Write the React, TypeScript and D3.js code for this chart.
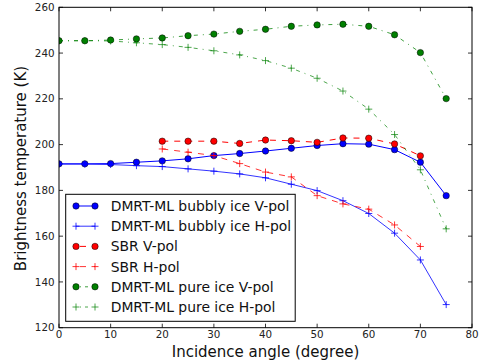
import React from "react";
import * as d3 from "d3";

const anglesFull = [0, 5, 10, 15, 20, 25, 30, 35, 40, 45, 50, 55, 60, 65, 70, 75];
const anglesSBR = [20, 25, 30, 35, 40, 45, 50, 55, 60, 65, 70];

const bubblyV = [191.6, 191.6, 191.7, 192.3, 192.9, 193.8, 195.2, 196.1, 197.2, 198.4, 199.6, 200.4, 200.2, 197.8, 192.3, 177.7];
const bubblyH = [191.5, 191.5, 191.3, 190.8, 190.4, 189.4, 188.4, 187.2, 185.5, 182.7, 179.9, 175.5, 169.9, 161.3, 149.6, 130.1];
const sbrV = [201.5, 201.5, 201.5, 200.5, 202.0, 201.7, 201.0, 202.9, 202.8, 200.3, 195.1];
const sbrH = [198.1, 196.7, 195.2, 191.7, 188.0, 185.9, 177.7, 174.1, 171.8, 164.9, 155.5];
const pureV = [245.4, 245.4, 245.7, 246.2, 246.6, 247.6, 248.3, 249.5, 250.4, 251.7, 252.3, 252.6, 251.7, 248.0, 240.2, 220.1];
const pureH = [245.4, 245.4, 245.3, 244.5, 243.7, 242.5, 241.0, 239.2, 236.7, 233.4, 229.0, 223.4, 215.5, 204.4, 189.0, 163.2];

const xTicks = [0, 10, 20, 30, 40, 50, 60, 70, 80];
const yTicks = [120, 140, 160, 180, 200, 220, 240, 260];

const seriesNames = [
  "DMRT-ML bubbly ice V-pol",
  "DMRT-ML bubbly ice H-pol",
  "SBR V-pol",
  "SBR H-pol",
  "DMRT-ML pure ice V-pol",
  "DMRT-ML pure ice H-pol",
];

type Series = {
  name: string;
  x: number[];
  y: number[];
  color: string;
  dash: string;
  legDash: string;
  marker: "o" | "+";
  op: number;
};

const series: Series[] = [
  { name: seriesNames[0], x: anglesFull, y: bubblyV, color: "#0000ff", dash: "none", legDash: "none", marker: "o", op: 1 },
  { name: seriesNames[1], x: anglesFull, y: bubblyH, color: "#0000ff", dash: "none", legDash: "none", marker: "+", op: 0.8 },
  { name: seriesNames[2], x: anglesSBR, y: sbrV, color: "#ff0000", dash: "6,6", legDash: "0,4,6,4", marker: "o", op: 1 },
  { name: seriesNames[3], x: anglesSBR, y: sbrH, color: "#ff0000", dash: "6,6", legDash: "0,4,6,4", marker: "+", op: 0.8 },
  { name: seriesNames[4], x: anglesFull, y: pureV, color: "#008000", dash: "4,5,1,5", legDash: "0,4,1,4,3,4", marker: "o", op: 0.75 },
  { name: seriesNames[5], x: anglesFull, y: pureH, color: "#008000", dash: "4,5,1,5", legDash: "0,4,1,4,3,4", marker: "+", op: 0.7 },
];

const W = 479;
const H = 362;
const L = 59;
const R = 472;
const T = 7.3;
const B = 327.7;
const FONT = "DejaVu Sans, sans-serif";

function Marker({ type, cx, cy, color, op }: { type: "o" | "+"; cx: number; cy: number; color: string; op: number }) {
  if (type === "o") {
    return <circle cx={cx} cy={cy} r={3.2} fill={color} stroke="#000" strokeWidth={0.5} />;
  }
  return (
    <path
      d={`M${cx - 3.5},${cy}H${cx + 3.5}M${cx},${cy - 3.5}V${cy + 3.5}`}
      stroke={color}
      strokeWidth={1}
      strokeOpacity={op}
      fill="none"
    />
  );
}

export default function App() {
  const x = d3.scaleLinear().domain([0, 80]).range([L, R]);
  const y = d3.scaleLinear().domain([120, 260]).range([B, T]);
  const line = d3
    .line<[number, number]>()
    .x((d) => x(d[0]))
    .y((d) => y(d[1]));

  const legX = 65.7;
  const legY = 194.3;
  const legW = 229.5;
  const legH = 127;
  const rowH = 20.2;

  return (
    <svg
      width={W}
      height={H}
      style={{ position: "absolute", left: 0, top: 0, display: "block", background: "#fff" }}
      fontFamily={FONT}
    >
      <rect x={0} y={0} width={W} height={H} fill="#fff" />
      <defs>
        <clipPath id="plotclip">
          <rect x={L} y={T} width={R - L} height={B - T} />
        </clipPath>
      </defs>
      <g clipPath="url(#plotclip)">
        {series.map((s, i) => (
          <g key={i}>
            <path
              d={line(s.x.map((v, j) => [v, s.y[j]] as [number, number])) || ""}
              fill="none"
              stroke={s.color}
              strokeWidth={1}
              strokeOpacity={s.op}
              strokeDasharray={s.dash}
            />
            {s.x.map((v, j) => (
              <Marker key={j} type={s.marker} cx={x(v)} cy={y(s.y[j])} color={s.color} op={s.op} />
            ))}
          </g>
        ))}
      </g>
      {/* axes frame */}
      <rect x={L} y={T} width={R - L} height={B - T} fill="none" stroke="#000" strokeWidth={1} />
      {xTicks.map((t) => (
        <g key={"x" + t}>
          <line x1={x(t)} x2={x(t)} y1={B} y2={B - 4} stroke="#000" strokeWidth={0.8} />
          <line x1={x(t)} x2={x(t)} y1={T} y2={T + 4} stroke="#000" strokeWidth={0.8} />
          <text x={x(t)} y={B + 10.5} textAnchor="middle" fontSize={10.3} fill="#222">
            {t}
          </text>
        </g>
      ))}
      {yTicks.map((t) => (
        <g key={"y" + t}>
          <line x1={L} x2={L + 4} y1={y(t)} y2={y(t)} stroke="#000" strokeWidth={0.8} />
          <line x1={R} x2={R - 4} y1={y(t)} y2={y(t)} stroke="#000" strokeWidth={0.8} />
          <text x={L - 4.5} y={y(t)} dy="0.35em" textAnchor="end" fontSize={10.3} fill="#222">
            {t}
          </text>
        </g>
      ))}
      <text x={(L + R) / 2} y={357} textAnchor="middle" fontSize={15} fill="#111">
        Incidence angle (degree)
      </text>
      <text
        transform={`translate(26,${(T + B) / 2 + 1}) rotate(-90)`}
        textAnchor="middle"
        fontSize={15}
        fill="#111"
      >
        Brightness temperature (K)
      </text>
      {/* legend */}
      <rect x={legX} y={legY} width={legW} height={legH} fill="#fff" stroke="#000" strokeWidth={1} />
      {series.map((s, i) => {
        const cy = legY + 11.7 + i * rowH;
        return (
          <g key={"l" + i}>
            <line x1={76} x2={95} y1={cy} y2={cy} stroke={s.color} strokeOpacity={s.op} strokeWidth={1} strokeDasharray={s.legDash} />
            <Marker type={s.marker} cx={76} cy={cy} color={s.color} op={s.op} />
            <Marker type={s.marker} cx={95} cy={cy} color={s.color} op={s.op} />
            <text x={110.7} y={cy} dy="0.36em" fontSize={13.9} fill="#111">
              {s.name}
            </text>
          </g>
        );
      })}
    </svg>
  );
}
